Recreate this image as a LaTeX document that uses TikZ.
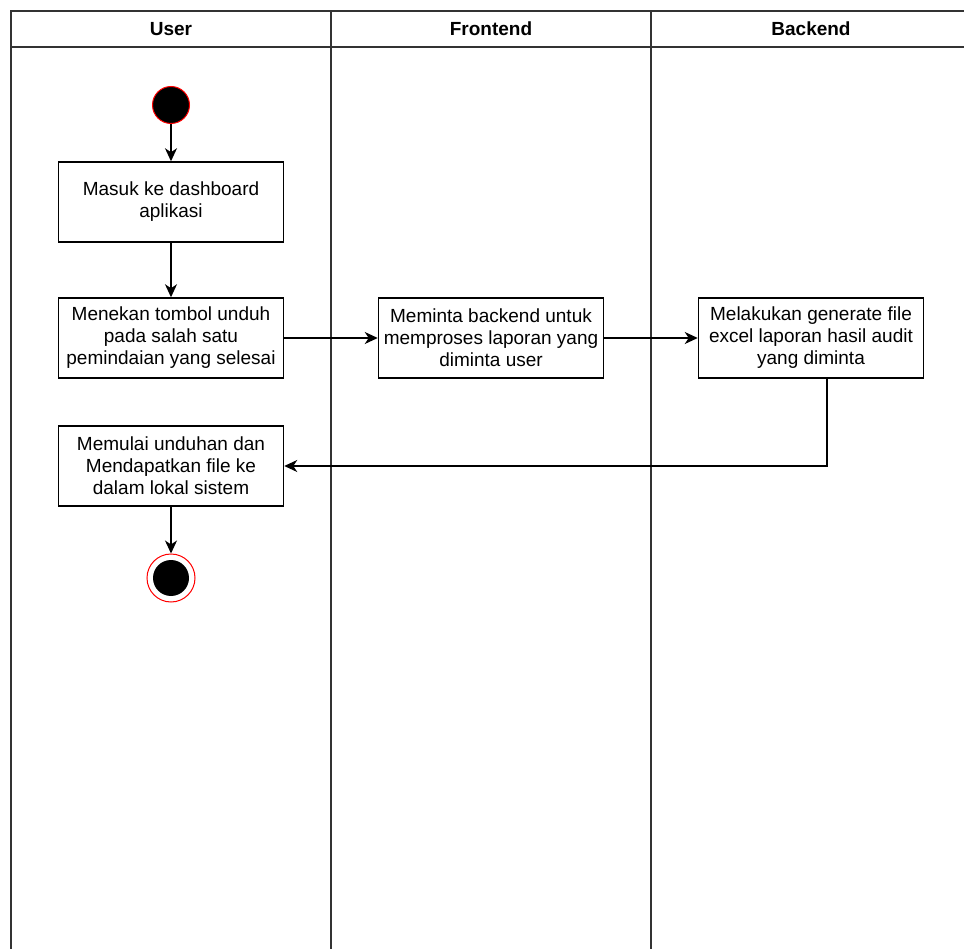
\documentclass[tikz,border=0pt]{standalone}
\usepackage{fontspec}
\setmainfont{Liberation Sans}
\usetikzlibrary{arrows.meta, positioning, calc}
\tikzset{lane/.style={draw=black!80,line width=1.6pt},
    lane head/.style={font=\bfseries\fontsize{19}{22}\selectfont},
    act/.style={draw,line width=1.5pt,minimum width=225pt,minimum height=80pt,
        align=center,inner sep=2pt,font=\fontsize{19}{22}\selectfont},
    initial dot/.style={circle,fill=black,draw=red,line width=1pt,minimum size=37pt,inner sep=0pt},
    final ring/.style={circle,draw=red,line width=1pt,fill=white,minimum size=48pt,inner sep=0pt},
    final dot/.style={circle,fill=black,minimum size=36pt,inner sep=0pt},
    flow/.style={draw,line width=1.4pt,-{Stealth[length=13pt,width=12pt,inset=4pt]}}}

\begin{document}
\begin{tikzpicture}[x=1pt,y=-1pt]
    \clip (0,0) rectangle (964,949);
    % swimlanes
    \draw[lane] (11,960) -- (11,11) -- (975,11);
    \draw[lane] (11,47) -- (975,47);
    \foreach \x in {331, 651}
        \draw[lane] (\x,11) -- (\x,960);
    \foreach \pos/\name/\txt in {{(171,29)/huser/User}, {(491,29)/hfront/Frontend}, {(811,29)/hback/Backend}}
        \node[lane head] (\name) at \pos {\txt};

    % activities
    \node[initial dot] (start) at (171,105) {};
    \foreach \pos/\name/\txt in {{(171,202)/masuk/{Masuk ke dashboard\\aplikasi}},
        {(171,338)/menekan/{Menekan tombol unduh\\pada salah satu\\pemindaian yang selesai}},
        {(491,338)/meminta/{Meminta backend untuk\\memproses laporan yang\\diminta user}},
        {(811,338)/generate/{Melakukan generate file\\excel laporan hasil audit\\yang diminta}},
        {(171,466)/unduhan/{Memulai unduhan dan\\Mendapatkan file ke\\dalam lokal sistem}}}
        \node[act] (\name) at \pos {\txt};
    \node[final ring] (finish) at (171,578) {};
    \node[final dot] (finishdot) at (finish) {};

    % flows
    \foreach \source/\dest in {start/masuk, masuk/menekan, menekan/meminta, meminta/generate, unduhan/finish}
        \path (\source) edge[flow] (\dest);
    \coordinate (genout) at (827,378);
    \draw[flow] (genout) |- (unduhan.east);
\end{tikzpicture}
\end{document}
